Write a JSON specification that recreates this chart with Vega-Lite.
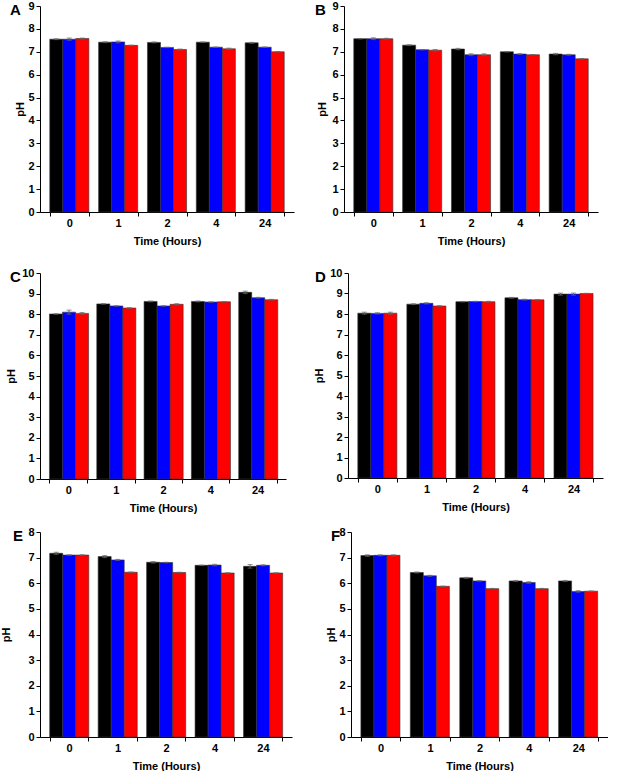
{
  "$schema": "https://vega.github.io/schema/vega-lite/v6.json",
  "padding": {"left": 0, "top": 0, "right": 0, "bottom": 0},
  "background": "white",
  "data": {"values": [
    {"panel":"A","time":"0","group":"g1","ph":7.55,"err":0.02},
    {"panel":"A","time":"0","group":"g2","ph":7.55,"err":0.05},
    {"panel":"A","time":"0","group":"g3","ph":7.58,"err":0.02},
    {"panel":"A","time":"1","group":"g1","ph":7.42,"err":0.02},
    {"panel":"A","time":"1","group":"g2","ph":7.43,"err":0.04},
    {"panel":"A","time":"1","group":"g3","ph":7.28,"err":0.01},
    {"panel":"A","time":"2","group":"g1","ph":7.41,"err":0.02},
    {"panel":"A","time":"2","group":"g2","ph":7.19,"err":0.01},
    {"panel":"A","time":"2","group":"g3","ph":7.1,"err":0.02},
    {"panel":"A","time":"4","group":"g1","ph":7.42,"err":0.01},
    {"panel":"A","time":"4","group":"g2","ph":7.2,"err":0.01},
    {"panel":"A","time":"4","group":"g3","ph":7.13,"err":0.03},
    {"panel":"A","time":"24","group":"g1","ph":7.39,"err":0.02},
    {"panel":"A","time":"24","group":"g2","ph":7.2,"err":0.01},
    {"panel":"A","time":"24","group":"g3","ph":7.0,"err":0.01},
    {"panel":"B","time":"0","group":"g1","ph":7.57,"err":0.01},
    {"panel":"B","time":"0","group":"g2","ph":7.57,"err":0.04},
    {"panel":"B","time":"0","group":"g3","ph":7.57,"err":0.02},
    {"panel":"B","time":"1","group":"g1","ph":7.29,"err":0.02},
    {"panel":"B","time":"1","group":"g2","ph":7.09,"err":0.01},
    {"panel":"B","time":"1","group":"g3","ph":7.07,"err":0.03},
    {"panel":"B","time":"2","group":"g1","ph":7.12,"err":0.03},
    {"panel":"B","time":"2","group":"g2","ph":6.87,"err":0.04},
    {"panel":"B","time":"2","group":"g3","ph":6.87,"err":0.04},
    {"panel":"B","time":"4","group":"g1","ph":7.0,"err":0.01},
    {"panel":"B","time":"4","group":"g2","ph":6.9,"err":0.02},
    {"panel":"B","time":"4","group":"g3","ph":6.87,"err":0.01},
    {"panel":"B","time":"24","group":"g1","ph":6.9,"err":0.03},
    {"panel":"B","time":"24","group":"g2","ph":6.87,"err":0.02},
    {"panel":"B","time":"24","group":"g3","ph":6.69,"err":0.01},
    {"panel":"C","time":"0","group":"g1","ph":8.01,"err":0.01},
    {"panel":"C","time":"0","group":"g2","ph":8.1,"err":0.1},
    {"panel":"C","time":"0","group":"g3","ph":8.04,"err":0.04},
    {"panel":"C","time":"1","group":"g1","ph":8.5,"err":0.01},
    {"panel":"C","time":"1","group":"g2","ph":8.4,"err":0.01},
    {"panel":"C","time":"1","group":"g3","ph":8.3,"err":0.02},
    {"panel":"C","time":"2","group":"g1","ph":8.62,"err":0.02},
    {"panel":"C","time":"2","group":"g2","ph":8.4,"err":0.01},
    {"panel":"C","time":"2","group":"g3","ph":8.48,"err":0.03},
    {"panel":"C","time":"4","group":"g1","ph":8.62,"err":0.02},
    {"panel":"C","time":"4","group":"g2","ph":8.59,"err":0.01},
    {"panel":"C","time":"4","group":"g3","ph":8.6,"err":0.01},
    {"panel":"C","time":"24","group":"g1","ph":9.06,"err":0.06},
    {"panel":"C","time":"24","group":"g2","ph":8.8,"err":0.02},
    {"panel":"C","time":"24","group":"g3","ph":8.7,"err":0.02},
    {"panel":"D","time":"0","group":"g1","ph":8.04,"err":0.05},
    {"panel":"D","time":"0","group":"g2","ph":8.03,"err":0.03},
    {"panel":"D","time":"0","group":"g3","ph":8.04,"err":0.05},
    {"panel":"D","time":"1","group":"g1","ph":8.48,"err":0.02},
    {"panel":"D","time":"1","group":"g2","ph":8.52,"err":0.03},
    {"panel":"D","time":"1","group":"g3","ph":8.39,"err":0.02},
    {"panel":"D","time":"2","group":"g1","ph":8.6,"err":0.01},
    {"panel":"D","time":"2","group":"g2","ph":8.61,"err":0.01},
    {"panel":"D","time":"2","group":"g3","ph":8.6,"err":0.02},
    {"panel":"D","time":"4","group":"g1","ph":8.79,"err":0.02},
    {"panel":"D","time":"4","group":"g2","ph":8.7,"err":0.02},
    {"panel":"D","time":"4","group":"g3","ph":8.69,"err":0.01},
    {"panel":"D","time":"24","group":"g1","ph":8.97,"err":0.05},
    {"panel":"D","time":"24","group":"g2","ph":8.97,"err":0.05},
    {"panel":"D","time":"24","group":"g3","ph":9.0,"err":0.01},
    {"panel":"E","time":"0","group":"g1","ph":7.17,"err":0.04},
    {"panel":"E","time":"0","group":"g2","ph":7.1,"err":0.01},
    {"panel":"E","time":"0","group":"g3","ph":7.1,"err":0.01},
    {"panel":"E","time":"1","group":"g1","ph":7.04,"err":0.04},
    {"panel":"E","time":"1","group":"g2","ph":6.91,"err":0.02},
    {"panel":"E","time":"1","group":"g3","ph":6.43,"err":0.01},
    {"panel":"E","time":"2","group":"g1","ph":6.82,"err":0.03},
    {"panel":"E","time":"2","group":"g2","ph":6.81,"err":0.01},
    {"panel":"E","time":"2","group":"g3","ph":6.42,"err":0.01},
    {"panel":"E","time":"4","group":"g1","ph":6.7,"err":0.01},
    {"panel":"E","time":"4","group":"g2","ph":6.71,"err":0.03},
    {"panel":"E","time":"4","group":"g3","ph":6.4,"err":0.01},
    {"panel":"E","time":"24","group":"g1","ph":6.66,"err":0.07},
    {"panel":"E","time":"24","group":"g2","ph":6.7,"err":0.02},
    {"panel":"E","time":"24","group":"g3","ph":6.4,"err":0.01},
    {"panel":"F","time":"0","group":"g1","ph":7.08,"err":0.03},
    {"panel":"F","time":"0","group":"g2","ph":7.09,"err":0.02},
    {"panel":"F","time":"0","group":"g3","ph":7.09,"err":0.02},
    {"panel":"F","time":"1","group":"g1","ph":6.42,"err":0.02},
    {"panel":"F","time":"1","group":"g2","ph":6.29,"err":0.02},
    {"panel":"F","time":"1","group":"g3","ph":5.88,"err":0.01},
    {"panel":"F","time":"2","group":"g1","ph":6.21,"err":0.02},
    {"panel":"F","time":"2","group":"g2","ph":6.09,"err":0.01},
    {"panel":"F","time":"2","group":"g3","ph":5.79,"err":0.01},
    {"panel":"F","time":"4","group":"g1","ph":6.09,"err":0.02},
    {"panel":"F","time":"4","group":"g2","ph":6.03,"err":0.03},
    {"panel":"F","time":"4","group":"g3","ph":5.79,"err":0.01},
    {"panel":"F","time":"24","group":"g1","ph":6.09,"err":0.02},
    {"panel":"F","time":"24","group":"g2","ph":5.68,"err":0.03},
    {"panel":"F","time":"24","group":"g3","ph":5.69,"err":0.01}
  ]},
  "align": "none",
  "vconcat": [
    {"hconcat": [
      {"title": {"text": "A", "dx": -30}, "width": 254, "height": 206,
       "transform": [{"filter": "datum.panel === 'A'"}],
       "encoding": {
         "x": {"field": "time", "type": "nominal", "sort": ["0","1","2","4","24"], "title": "Time (Hours)"},
         "xOffset": {"field": "group", "type": "nominal", "sort": ["g1","g2","g3"]},
         "y": {"field": "ph", "type": "quantitative", "title": "pH", "scale": {"domain": [0, 9], "nice": false}, "axis": {"values": [0,1,2,3,4,5,6,7,8,9], "titlePadding": 2}}
       },
       "layer": [
         {"mark": {"type": "bar", "stroke": "#333333", "strokeWidth": 0.6},
          "encoding": {"color": {"field": "group", "type": "nominal", "scale": {"domain": ["g1","g2","g3"], "range": ["#000000","#0000ff","#ff0000"]}, "legend": null}}},
         {"mark": {"type": "errorbar", "ticks": {"size": 5}, "color": "#666666"},
          "encoding": {"yError": {"field": "err"}}}
       ]},
      {"title": {"text": "B", "dx": -29}, "width": 254, "height": 206,
       "transform": [{"filter": "datum.panel === 'B'"}],
       "encoding": {
         "x": {"field": "time", "type": "nominal", "sort": ["0","1","2","4","24"], "title": "Time (Hours)"},
         "xOffset": {"field": "group", "type": "nominal", "sort": ["g1","g2","g3"]},
         "y": {"field": "ph", "type": "quantitative", "title": "pH", "scale": {"domain": [0, 9], "nice": false}, "axis": {"values": [0,1,2,3,4,5,6,7,8,9], "titlePadding": 4}}
       },
       "layer": [
         {"mark": {"type": "bar", "stroke": "#333333", "strokeWidth": 0.6},
          "encoding": {"color": {"field": "group", "type": "nominal", "scale": {"domain": ["g1","g2","g3"], "range": ["#000000","#0000ff","#ff0000"]}, "legend": null}}},
         {"mark": {"type": "errorbar", "ticks": {"size": 5}, "color": "#666666"},
          "encoding": {"yError": {"field": "err"}}}
       ]}
    ], "spacing": 21},
    {"align": "none", "vconcat": [
      {"hconcat": [
        {"title": {"text": "C", "dx": -30}, "width": 246, "height": 206,
         "transform": [{"filter": "datum.panel === 'C'"}],
         "encoding": {
           "x": {"field": "time", "type": "nominal", "sort": ["0","1","2","4","24"], "title": "Time (Hours)"},
           "xOffset": {"field": "group", "type": "nominal", "sort": ["g1","g2","g3"]},
           "y": {"field": "ph", "type": "quantitative", "title": "pH", "scale": {"domain": [0, 10], "nice": false}, "axis": {"values": [0,1,2,3,4,5,6,7,8,9,10], "titlePadding": 5}}
         },
         "layer": [
           {"mark": {"type": "bar", "stroke": "#333333", "strokeWidth": 0.6},
            "encoding": {"color": {"field": "group", "type": "nominal", "scale": {"domain": ["g1","g2","g3"], "range": ["#000000","#0000ff","#ff0000"]}, "legend": null}}},
           {"mark": {"type": "errorbar", "ticks": {"size": 5}, "color": "#666666"},
            "encoding": {"yError": {"field": "err"}}}
         ]},
        {"title": {"text": "D", "dx": -33}, "width": 255, "height": 205,
         "transform": [{"filter": "datum.panel === 'D'"}],
         "encoding": {
           "x": {"field": "time", "type": "nominal", "sort": ["0","1","2","4","24"], "title": "Time (Hours)"},
           "xOffset": {"field": "group", "type": "nominal", "sort": ["g1","g2","g3"]},
           "y": {"field": "ph", "type": "quantitative", "title": "pH", "scale": {"domain": [0, 10], "nice": false}, "axis": {"values": [0,1,2,3,4,5,6,7,8,9,10], "titlePadding": 5}}
         },
         "layer": [
           {"mark": {"type": "bar", "stroke": "#333333", "strokeWidth": 0.6},
            "encoding": {"color": {"field": "group", "type": "nominal", "scale": {"domain": ["g1","g2","g3"], "range": ["#000000","#0000ff","#ff0000"]}, "legend": null}}},
           {"mark": {"type": "errorbar", "ticks": {"size": 5}, "color": "#666666"},
            "encoding": {"yError": {"field": "err"}}}
         ]}
      ], "spacing": 27},
      {"hconcat": [
        {"title": {"text": "E", "dx": -27}, "width": 252, "height": 205,
         "transform": [{"filter": "datum.panel === 'E'"}],
         "encoding": {
           "x": {"field": "time", "type": "nominal", "sort": ["0","1","2","4","24"], "title": "Time (Hours)"},
           "xOffset": {"field": "group", "type": "nominal", "sort": ["g1","g2","g3"]},
           "y": {"field": "ph", "type": "quantitative", "title": "pH", "scale": {"domain": [0, 8], "nice": false}, "axis": {"values": [0,1,2,3,4,5,6,7,8], "titlePadding": 16}}
         },
         "layer": [
           {"mark": {"type": "bar", "stroke": "#333333", "strokeWidth": 0.6},
            "encoding": {"color": {"field": "group", "type": "nominal", "scale": {"domain": ["g1","g2","g3"], "range": ["#000000","#0000ff","#ff0000"]}, "legend": null}}},
           {"mark": {"type": "errorbar", "ticks": {"size": 5}, "color": "#666666"},
            "encoding": {"yError": {"field": "err"}}}
         ]},
        {"title": {"text": "F", "dx": -20}, "width": 257, "height": 205,
         "transform": [{"filter": "datum.panel === 'F'"}],
         "encoding": {
           "x": {"field": "time", "type": "nominal", "sort": ["0","1","2","4","24"], "title": "Time (Hours)"},
           "xOffset": {"field": "group", "type": "nominal", "sort": ["g1","g2","g3"]},
           "y": {"field": "ph", "type": "quantitative", "title": "pH", "scale": {"domain": [0, 8], "nice": false}, "axis": {"values": [0,1,2,3,4,5,6,7,8], "titlePadding": 2}}
         },
         "layer": [
           {"mark": {"type": "bar", "stroke": "#333333", "strokeWidth": 0.6},
            "encoding": {"color": {"field": "group", "type": "nominal", "scale": {"domain": ["g1","g2","g3"], "range": ["#000000","#0000ff","#ff0000"]}, "legend": null}}},
           {"mark": {"type": "errorbar", "ticks": {"size": 5}, "color": "#666666"},
            "encoding": {"yError": {"field": "err"}}}
         ]}
      ], "spacing": 33}
    ], "spacing": 13}
  ],
  "spacing": 21,
  "config": {
    "view": {"stroke": null},
    "font": "Liberation Sans",
    "scale": {"bandPaddingInner": 0.2, "bandPaddingOuter": 0.1, "offsetBandPaddingInner": 0, "offsetBandPaddingOuter": 0},
    "title": {"anchor": "start", "frame": "group", "fontSize": 15, "fontWeight": "bold", "font": "Liberation Sans", "color": "#000000", "offset": -18, "baseline": "bottom"},
    "axis": {"grid": false, "domainColor": "#000000", "tickColor": "#000000", "domainWidth": 1, "tickSize": 4, "labelFont": "Liberation Sans", "labelFontWeight": "bold", "labelFontSize": 11, "labelColor": "#000000", "titleFont": "Liberation Sans", "titleFontWeight": "bold", "titleFontSize": 11, "titleColor": "#000000"},
    "axisX": {"labelAngle": 0, "tickBand": "extent", "labelPadding": 1, "titlePadding": 7},
    "axisY": {"labelPadding": 2}
  }
}
